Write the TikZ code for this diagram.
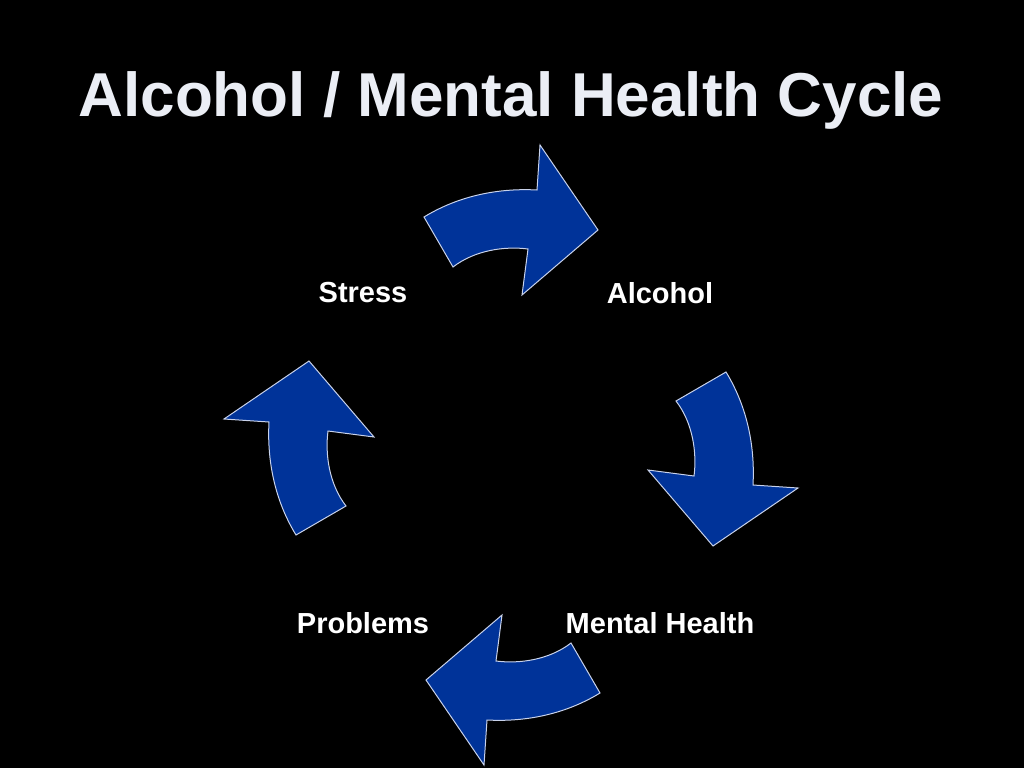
\documentclass[tikz,border=0pt]{standalone}
\usepackage{fontspec}
\setmainfont{Liberation Sans}
\begin{document}
\begin{tikzpicture}[x=1pt,y=-1pt,
  arr/.style={fill={rgb,255:red,0;green,51;blue,153},draw={rgb,255:red,200;green,210;blue,235},line width=1pt,line join=miter},
  lbl/.style={text=white,font=\bfseries\fontsize{29}{34}\selectfont}]
\fill[black] (0,0) rectangle (1024,768);
\useasboundingbox (0,0) rectangle (1024,768);
\node[text={rgb,255:red,235;green,238;blue,245},font=\bfseries\fontsize{62}{70}\selectfont] (title) at (511,100) {Alcohol / Mental Health Cycle};
\foreach \a/\dx/\dy in {0/0/0,90/-24/5,180/0/0,270/22/-8}{
  \begin{scope}[shift={(\dx,\dy)}]
  \begin{scope}[rotate around={-\a:(512,455)}]
  \draw[arr] (424,217) .. controls (460,195) and (500,188) .. (537,190)
    -- (540,145) -- (598,230) -- (522,295) -- (528,249)
    .. controls (505,246) and (475,250) .. (453,267) -- cycle;
  \end{scope}
  \end{scope}
}
\node[lbl] (stress) at (363,293) {Stress};
\node[lbl] (alcohol) at (660,293) {Alcohol};
\node[lbl] (mh) at (660,623) {Mental Health};
\node[lbl] (prob) at (363,623) {Problems};
\end{tikzpicture}
\end{document}
